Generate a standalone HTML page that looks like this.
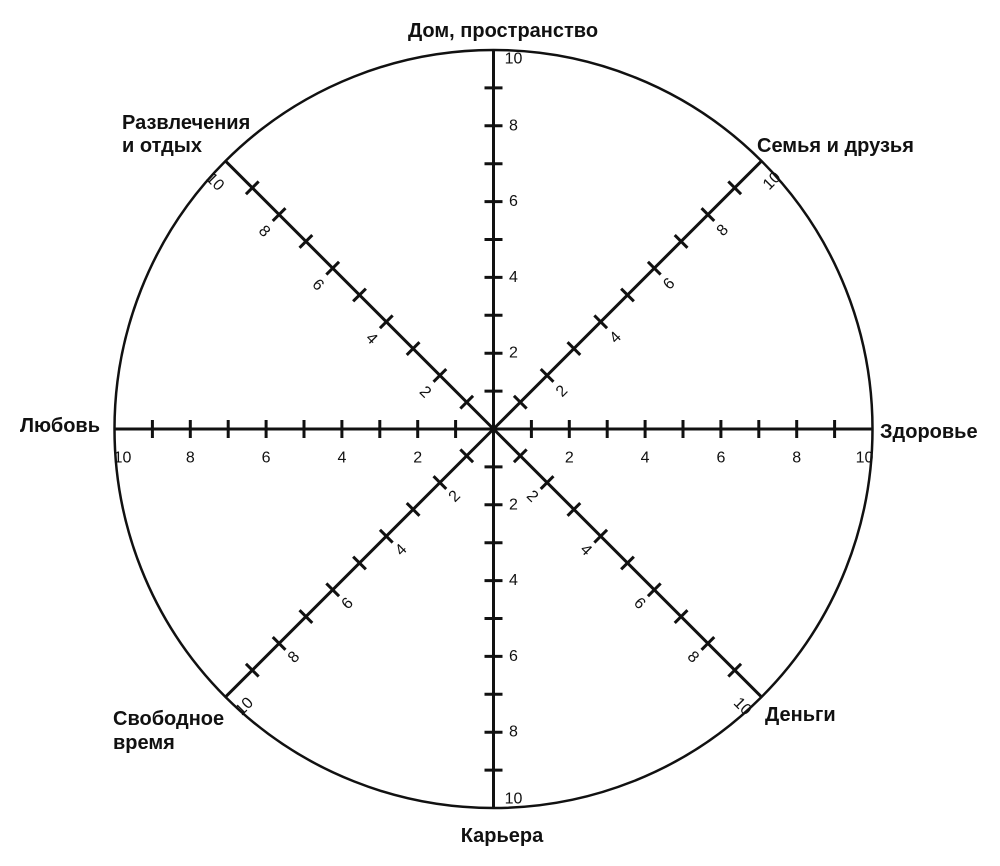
<!DOCTYPE html>
<html><head><meta charset="utf-8"><style>
html,body{margin:0;padding:0;background:#fff;}
svg{display:block;}
text{font-family:"Liberation Sans",sans-serif;fill:#111;}
.n{font-size:16px;}
.b{font-size:20px;font-weight:bold;}
</style></head><body>
<svg id="s" width="1000" height="866" viewBox="0 0 1000 866" xmlns="http://www.w3.org/2000/svg">
<circle cx="493.5" cy="429" r="379" fill="none" stroke="#111" stroke-width="2.5"/>
<g id="g" stroke="#111" stroke-width="3"></g>
<g id="t"></g>
<text class="b" x="503" y="37" text-anchor="middle">Дом, пространство</text>
<text class="b" x="502" y="842" text-anchor="middle">Карьера</text>
<text class="b" x="20" y="432">Любовь</text>
<text class="b" x="880" y="438">Здоровье</text>
<text class="b" x="122" y="129">Развлечения</text>
<text class="b" x="122" y="152">и отдых</text>
<text class="b" x="757" y="152">Семья и друзья</text>
<text class="b" x="765" y="721">Деньги</text>
<text class="b" x="113" y="725">Свободное</text>
<text class="b" x="113" y="749">время</text>
</svg>
<script>
var cx=493.5,cy=429,R=379,st=R/10,ns="http://www.w3.org/2000/svg";
var g=document.getElementById('g'),t=document.getElementById('t');
function L(x1,y1,x2,y2,w){var l=document.createElementNS(ns,'line');l.setAttribute('x1',x1);l.setAttribute('y1',y1);l.setAttribute('x2',x2);l.setAttribute('y2',y2);if(w)l.setAttribute('stroke-width',w);g.appendChild(l);}
function T(x,y,s,rot){var e=document.createElementNS(ns,'text');e.setAttribute('class','n');e.setAttribute('x',x);e.setAttribute('y',y);e.setAttribute('text-anchor','middle');e.setAttribute('dominant-baseline','central');if(rot)e.setAttribute('transform','rotate('+rot+' '+x+' '+y+')');e.textContent=s;t.appendChild(e);}
var axes=[
 [0,-1, 17,0, 0],[0,1, 17,0, 0],[1,0, 0,29, 0],[-1,0, 0,29, 0],
 [0.7071,-0.7071, 15,16,-45],[-0.7071,-0.7071,-15,17,45],
 [-0.7071,0.7071, 15,14,-45],[0.7071,0.7071,-15,14,45]];
axes.forEach(function(a){
 var dx=a[0],dy=a[1];
 L(cx,cy,cx+dx*R,cy+dy*R,3);
 var px=-dy,py=dx;
 for(var k=1;k<10;k++){var x=cx+dx*st*k,y=cy+dy*st*k;L(x-px*9,y-py*9,x+px*9,y+py*9,3);}
 for(var k=2;k<=10;k+=2){var x=cx+dx*st*k,y=cy+dy*st*k;
  var ox=a[2],oy=a[3];
  if(dx==0&&k==10){y+=dy>0?-9:9;}
  if(dy==0&&k==10){x+=dx>0?-8:8;}
  if(dx!=0&&dy!=0&&k==10){x-=dx*6;y-=dy*6;}
  if(dx==0)x+=3;
  T(x+ox,y+oy,String(k),a[4]);}
});
</script>
</body></html>
